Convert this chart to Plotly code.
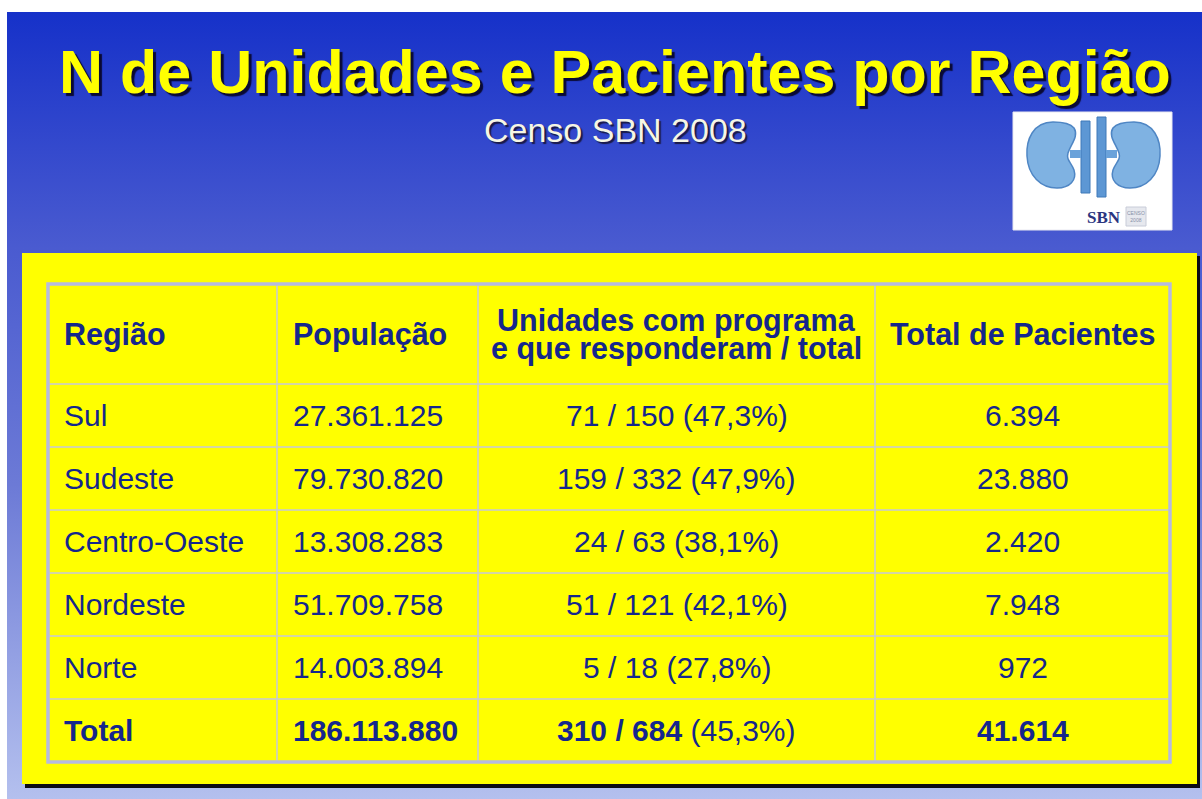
import plotly.graph_objects as go

# ---------------- data ----------------
title_text = "N de Unidades e Pacientes por Região"
subtitle_text = "Censo SBN 2008"

headers = ["Região", "População", ["Unidades com programa", "e que responderam / total"], "Total de Pacientes"]
regions = ["Sul", "Sudeste", "Centro-Oeste", "Nordeste", "Norte", "Total"]
population = [27361125, 79730820, 13308283, 51709758, 14003894, 186113880]
units_responded = [71, 159, 24, 51, 5, 310]
units_total = [150, 332, 63, 121, 18, 684]
units_pct = [47.3, 47.9, 38.1, 42.1, 27.8, 45.3]
patients = [6394, 23880, 2420, 7948, 972, 41614]

# ---------------- helpers ----------------
def br_int(v):
    return f"{v:,}".replace(",", ".")

def br_pct(v):
    return f"{v:.1f}".replace(".", ",") + "%"

W, H = 1202, 799
FONT = "Liberation Sans"
NAVY = "#15278c"

fig = go.Figure()

# slide background with vertical gradient
SX0, SY0 = 7, 12
fig.add_trace(go.Scatter(
    x=[SX0, W, W, SX0, SX0], y=[SY0, SY0, H, H, SY0],
    mode="lines", line=dict(width=0), fill="toself",
    fillgradient=dict(type="vertical", start=SY0, stop=H,
                      colorscale=[[0, "#1631c9"], [0.3, "#4a5bd0"],
                                  [0.6, "#6c7ad6"], [1, "#b4c0ee"]]),
    hoverinfo="skip", showlegend=False))

shapes = []
# yellow panel with black shadow
PX0, PY0, PX1, PY1 = 22, 253, 1197, 784
shapes.append(dict(type="rect", x0=PX0 + 3, y0=PY0 + 3, x1=PX1 + 3, y1=PY1 + 4,
                   fillcolor="#0c0c14", line=dict(width=0), layer="above"))
shapes.append(dict(type="rect", x0=PX0, y0=PY0, x1=PX1, y1=PY1,
                   fillcolor="#ffff00", line=dict(width=0), layer="above"))

# table geometry
TX0, TX1 = 48, 1170
TY0 = 284
HEAD_H = 100
ROW_H = 63
col_edges = [TX0, 277, 478, 875, TX1]
row_edges = [TY0, TY0 + HEAD_H] + [TY0 + HEAD_H + ROW_H * (i + 1) for i in range(len(regions))]
TY1 = row_edges[-1]

# inner grid lines
for xe in col_edges[1:-1]:
    shapes.append(dict(type="line", x0=xe, x1=xe, y0=TY0, y1=TY1,
                       line=dict(color="#c6c8d8", width=1.5), layer="above"))
for ye in row_edges[1:-1]:
    shapes.append(dict(type="line", x0=TX0, x1=TX1, y0=ye, y1=ye,
                       line=dict(color="#c6c8d8", width=1.5), layer="above"))
# outer border
shapes.append(dict(type="rect", x0=TX0, y0=TY0, x1=TX1, y1=TY1,
                   fillcolor="rgba(0,0,0,0)", line=dict(color="#b6badf", width=3.5), layer="above"))

# logo (approximation of the SBN kidney logo)
LX0, LY0, LX1, LY1 = 1013, 112, 1172, 230
shapes.append(dict(type="rect", x0=LX0, y0=LY0, x1=LX1, y1=LY1,
                   fillcolor="#ffffff", line=dict(color="#e8e8f0", width=1), layer="above"))
left_kidney = ("M 1053,122 C 1033,122 1026,140 1027,156 C 1028,176 1041,188 1057,188 "
               "C 1070,188 1077,180 1074,170 C 1071,162 1066,160 1068,153 "
               "C 1071,144 1079,136 1074,128 C 1070,123 1062,122 1053,122 Z")
right_kidney = ("M 1134,122 C 1154,122 1161,140 1160,156 C 1159,176 1146,188 1130,188 "
                "C 1117,188 1110,180 1113,170 C 1116,162 1121,160 1119,153 "
                "C 1116,144 1108,136 1113,128 C 1117,123 1125,122 1134,122 Z")
for p in (left_kidney, right_kidney):
    shapes.append(dict(type="path", path=p, fillcolor="#7fb2e2",
                       line=dict(color="#4f86c4", width=1.5), layer="above"))
for (x0, x1, y0, y1) in [(1081, 1090, 121, 193), (1097, 1106, 117, 197)]:
    shapes.append(dict(type="rect", x0=x0, x1=x1, y0=y0, y1=y1,
                       fillcolor="#5d97d4", line=dict(color="#3f78b8", width=1), layer="above"))
for (x0, x1, y0, y1) in [(1070, 1081, 150, 158), (1106, 1117, 150, 158)]:
    shapes.append(dict(type="rect", x0=x0, x1=x1, y0=y0, y1=y1,
                       fillcolor="#6aa2da", line=dict(width=0), layer="above"))
shapes.append(dict(type="rect", x0=1126, x1=1146, y0=207, y1=226,
                   fillcolor="#e6e8ee", line=dict(color="#c8ccd8", width=1), layer="above"))

annotations = []

def add_text(x, y, text, size, color, xanchor="center", bold=False, family=FONT, shadow="none"):
    t = f"<b>{text}</b>" if bold else text
    annotations.append(dict(x=x, y=y, text=t, showarrow=False, xanchor=xanchor,
                            yanchor="middle",
                            font=dict(family=family, size=size, color=color, shadow=shadow)))

# title and subtitle (with drop shadows)
add_text(615, 72, title_text, 61, "#ffff00", bold=True, shadow="3px 3px 1px #0a0a34")
add_text(615, 130, subtitle_text, 34, "#f6f6e4", shadow="2px 2px 1px #1a1a48")

# logo text
add_text(1104, 217, "SBN", 17, "#2b3580", bold=True, family="Liberation Serif")
annotations.append(dict(x=1136, y=216.5, text="CENSO<br>2008", showarrow=False,
                        font=dict(family=FONT, size=5, color="#8890a8")))

# table header
hy = (row_edges[0] + row_edges[1]) / 2
text_x = [62, 291, (col_edges[2] + col_edges[3]) / 2, (col_edges[3] + col_edges[4]) / 2]
anchors = ["left", "left", "center", "center"]
HEAD_FS = 30.5
for j, h in enumerate(headers):
    if isinstance(h, list):
        n = len(h)
        for k, line in enumerate(h):
            add_text(text_x[j], hy + (k - (n - 1) / 2) * 28, line, HEAD_FS, NAVY,
                     xanchor=anchors[j], bold=True)
    else:
        add_text(text_x[j], hy, h, HEAD_FS, NAVY, xanchor=anchors[j], bold=True)

# table body
BODY_FS = 30
for i, reg in enumerate(regions):
    cy = (row_edges[i + 1] + row_edges[i + 2]) / 2
    is_total = reg == "Total"
    add_text(text_x[0], cy, reg, BODY_FS, NAVY, xanchor="left", bold=is_total)
    add_text(text_x[1], cy, br_int(population[i]), BODY_FS, NAVY, xanchor="left", bold=is_total)
    frac = f"{units_responded[i]} / {units_total[i]}"
    if is_total:
        frac = f"<b>{frac}</b>"
    add_text(text_x[2], cy, f"{frac} ({br_pct(units_pct[i])})", BODY_FS, NAVY)
    add_text(text_x[3], cy, br_int(patients[i]), BODY_FS, NAVY, bold=is_total)

fig.update_layout(
    width=W, height=H,
    margin=dict(l=0, r=0, t=0, b=0),
    paper_bgcolor="#ffffff", plot_bgcolor="#ffffff",
    xaxis=dict(range=[0, W], visible=False, fixedrange=True),
    yaxis=dict(range=[H, 0], visible=False, fixedrange=True),
    shapes=shapes, annotations=annotations,
    showlegend=False,
)

fig.write_html("out.html", config={"displayModeBar": False, "staticPlot": True},
               post_script="document.body.style.margin='0';document.body.style.overflow='hidden';")
